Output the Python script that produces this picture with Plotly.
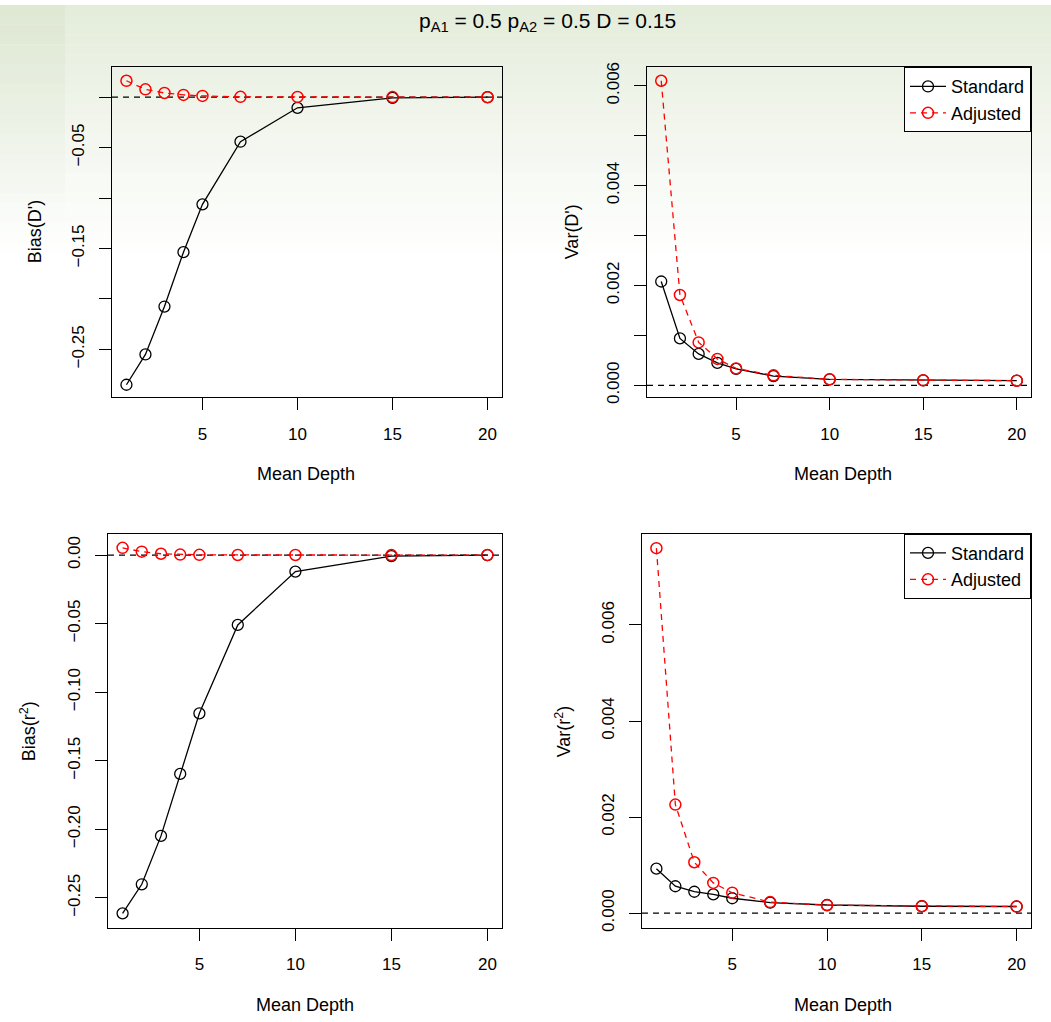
import plotly.graph_objects as go

# ---------------- data ----------------
depth = [1, 2, 3, 4, 5, 7, 10, 15, 20]

bias_D_standard = [-0.285, -0.255, -0.2075, -0.1536, -0.1062, -0.0441, -0.0105, -0.0007, 0.0]
bias_D_adjusted = [0.0163, 0.0078, 0.0042, 0.0023, 0.0013, 0.0004, 0.0003, 0.0001, 0.0]

var_D_standard = [0.00208, 0.00094, 0.00063, 0.00045, 0.00033, 0.000185, 0.00012, 0.0001, 0.000093]
var_D_adjusted = [0.0061, 0.00181, 0.00086, 0.00053, 0.00034, 0.0002, 0.00012, 0.0001, 0.000093]

bias_r2_standard = [-0.2613, -0.2401, -0.2048, -0.1596, -0.1154, -0.0509, -0.012, -0.0007, 0.0]
bias_r2_adjusted = [0.0053, 0.0025, 0.001, 0.0004, 0.0002, 0.0001, 0.0001, 0.0, 0.0]

var_r2_standard = [0.000926, 0.00056, 0.000446, 0.00039, 0.00031, 0.00022, 0.00017, 0.000144, 0.000138]
var_r2_adjusted = [0.0076, 0.00226, 0.00106, 0.00063, 0.000425, 0.00023, 0.000165, 0.000144, 0.000138]

x_ticks = [5, 10, 15, 20]
bias_D_ticks = [0, -0.05, -0.1, -0.15, -0.2, -0.25]
bias_D_ticktext = ["", "\u22120.05", "", "\u22120.15", "", "\u22120.25"]
var_D_ticks = [0, 0.001, 0.002, 0.003, 0.004, 0.005, 0.006]
var_D_ticktext = ["0.000", "", "0.002", "", "0.004", "", "0.006"]
bias_r2_ticks = [0, -0.05, -0.1, -0.15, -0.2, -0.25]
bias_r2_ticktext = ["0.00", "\u22120.05", "\u22120.10", "\u22120.15", "\u22120.20", "\u22120.25"]
var_r2_ticks = [0, 0.002, 0.004, 0.006]
var_r2_ticktext = ["0.000", "0.002", "0.004", "0.006"]

series_names = ["Standard", "Adjusted"]
title_text = "p<sub>A1</sub> = 0.5 p<sub>A2</sub> = 0.5 D = 0.15"

# ---------------- figure ----------------
W, H = 1051, 1022
FONT = "Liberation Sans, Arial, sans-serif"

fig = go.Figure()

def px_x(p):
    return p / W

def px_y(p):
    return 1 - p / H

panels = [
    ("x", "y", (112, 502), (63, 397), bias_D_standard, bias_D_adjusted,
     bias_D_ticks, bias_D_ticktext, [-0.2975, 0.0297], None),
    ("x2", "y2", (647, 1031), (63, 397), var_D_standard, var_D_adjusted,
     var_D_ticks, var_D_ticktext, [-0.00024, 0.00637], "legend"),
    ("x3", "y3", (108, 502), (535, 934), bias_r2_standard, bias_r2_adjusted,
     bias_r2_ticks, bias_r2_ticktext, [-0.272, 0.0156], None),
    ("x4", "y4", (642, 1031), (535, 934), var_r2_standard, var_r2_adjusted,
     var_r2_ticks, var_r2_ticktext, [-0.00031, 0.0079], "legend2"),
]

layout_axes = {}
shapes = []

# decorative background gradient (slide backdrop) at the top
n_bands = 26
for i in range(n_bands):
    op = 0.7 * (1 - i / n_bands) ** 1.2
    shapes.append(dict(type="rect", xref="paper", yref="paper", layer="below",
                       x0=0, x1=1, y0=px_y((i + 1) * 10), y1=px_y(i * 10),
                       fillcolor="rgb(216,228,202)", opacity=op, line=dict(width=0)))
for i in range(23):
    op = 0.3 * (1 - i / 23)
    shapes.append(dict(type="rect", xref="paper", yref="paper", layer="below",
                       x0=0, x1=px_x(65), y0=px_y((i + 1) * 10), y1=px_y(i * 10),
                       fillcolor="rgb(210,222,195)", opacity=op, line=dict(width=0)))

for idx, (xa, ya, xd, yd, std, adj, yt, ytt, yr, leg) in enumerate(panels):
    show = leg is not None
    fig.add_trace(go.Scatter(
        x=depth, y=std, mode="lines+markers", name=series_names[0],
        xaxis=xa, yaxis=ya, showlegend=show, legend=leg if show else None,
        line=dict(color="black", width=1.3),
        marker=dict(symbol="circle-open", size=11, color="black", line=dict(width=1.3)),
    ))
    fig.add_trace(go.Scatter(
        x=depth, y=adj, mode="lines+markers", name=series_names[1],
        xaxis=xa, yaxis=ya, showlegend=show, legend=leg if show else None,
        line=dict(color="#ff0000", width=1.3, dash="6px,5px"),
        marker=dict(symbol="circle-open", size=11, color="#ff0000", line=dict(width=1.5)),
    ))
    xkey = "xaxis" + xa[1:]
    ykey = "yaxis" + ya[1:]
    layout_axes[xkey] = dict(
        domain=[px_x(xd[0]), px_x(xd[1])], anchor=ya, range=[0.24, 20.76],
        tickvals=x_ticks, ticks="outside", ticklen=12, tickwidth=1, tickcolor="black",
        showline=True, linecolor="black", linewidth=1, mirror=True,
        showgrid=False, zeroline=False, ticklabelstandoff=9,
        tickfont=dict(family=FONT, size=17, color="black"),
    )
    layout_axes[ykey] = dict(
        domain=[px_y(yd[1]), px_y(yd[0])], anchor=xa, range=yr,
        tickvals=yt, ticktext=ytt, tickangle=-90,
        ticks="outside", ticklen=12, tickwidth=1, tickcolor="black",
        showline=True, linecolor="black", linewidth=1, mirror=True,
        showgrid=False, zeroline=False, ticklabelstandoff=8,
        tickfont=dict(family=FONT, size=17, color="black"),
    )
    shapes.append(dict(type="line", xref=xa + " domain", yref=ya, x0=0, x1=1, y0=0, y1=0,
                       line=dict(color="black", width=1.2, dash="6px,5px"), layer="below"))

def ann(text, x, y, angle=0, size=18):
    return dict(text=text, x=px_x(x), y=px_y(y), xref="paper", yref="paper",
                showarrow=False, textangle=angle, xanchor="center", yanchor="middle",
                font=dict(family=FONT, size=size, color="black"))

annotations = [
    ann(title_text, 547, 17, size=21),
    ann("Mean Depth", 306, 475),
    ann("Mean Depth", 843, 475),
    ann("Mean Depth", 305, 1012),
    ann("Mean Depth", 843, 1012),
    ann("Bias(D')", 35, 230, -90),
    ann("Var(D')", 572, 230, -90),
    ann("Bias(r<sup>2</sup>)", 28, 735, -90),
    ann("Var(r<sup>2</sup>)", 563, 735, -90),
]

legend_style = dict(
    xanchor="right", yanchor="top", bgcolor="white", bordercolor="black", borderwidth=1,
    font=dict(family=FONT, size=18, color="black"), itemwidth=36, tracegroupgap=0,
)

fig.update_layout(
    width=W, height=H, margin=dict(l=0, r=0, t=0, b=0),
    paper_bgcolor="white", plot_bgcolor="rgba(0,0,0,0)",
    font=dict(family=FONT, color="black"),
    shapes=shapes, annotations=annotations,
    legend=dict(x=px_x(1031), y=px_y(63), **legend_style),
    legend2=dict(x=px_x(1031), y=px_y(535), **legend_style),
    **layout_axes,
)

fig.write_html("out.html")
